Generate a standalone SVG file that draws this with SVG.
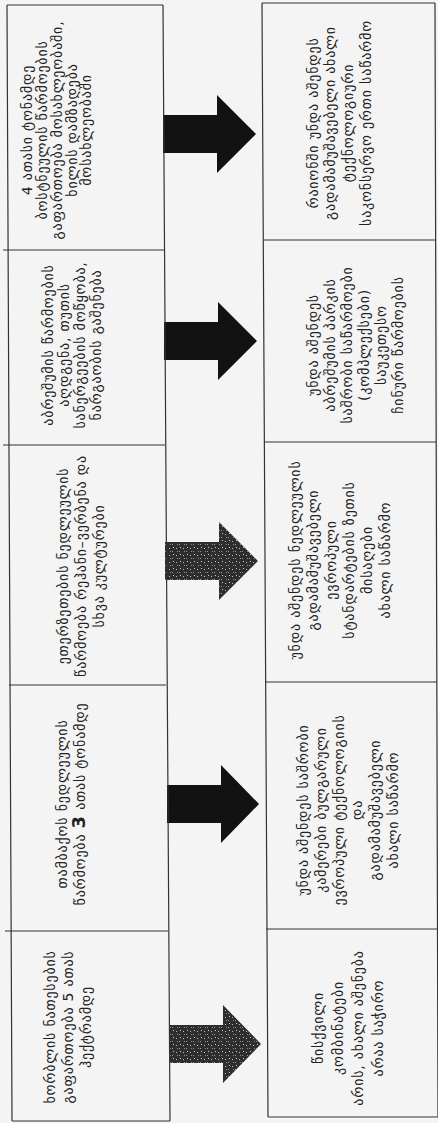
<svg xmlns="http://www.w3.org/2000/svg" width="438" height="1123" viewBox="0 0 438 1123">
<style>
.bg{fill:#f4f4f4}
.ln{stroke:#333;stroke-width:1.2;fill:none}
.t{font-family:"DejaVu Sans","Noto Sans",sans-serif;font-size:14px;letter-spacing:0.8px;fill:#222;text-anchor:middle}
.a1{fill:#121212}
.a2{fill:#2e2e2e}
</style>
<defs>
<pattern id="spk" width="7" height="7" patternUnits="userSpaceOnUse">
<rect x="1" y="2" width="1" height="1" fill="#bbb"/>
<rect x="4" y="5" width="1" height="1" fill="#999"/>
<rect x="5" y="1" width="1" height="1" fill="#ccc"/>
<rect x="2" y="5" width="1" height="1" fill="#888"/>
</pattern>
</defs>
<rect class="bg" x="0" y="0" width="438" height="1123"/>
<g id="connectors">
<path class="a1" d="M163,115 H217 V95 L256,134 L217,173 V153 H163 Z"/>
<path class="a1" d="M164,322 H218 V302 L257,341 L218,380 V360 H164 Z"/>
<path class="a2" d="M165,542 H219 V522 L258,561 L219,600 V580 H165 Z"/>
<path fill="url(#spk)" d="M165,542 H219 V522 L258,561 L219,600 V580 H165 Z"/>
<path class="a1" d="M167,785 H221 V765 L259,804 L221,843 V823 H167 Z"/>
<path class="a2" d="M170,1025 H223 V1005 L261,1044 L223,1083 V1063 H170 Z"/>
<path fill="url(#spk)" d="M170,1025 H223 V1005 L261,1044 L223,1083 V1063 H170 Z"/>
</g>
<g id="frame">
<path class="ln" d="M7,5 L12,1121 M163,5 L170,1121 M262,3 L268,1117 M435,3 L438,1117"/>
</g>
<g id="L1">
<path class="ln" d="M7,5 H163"/>
<g transform="translate(0,130) rotate(-90)">
<text class="t"><tspan x="0" y="32">4 ათასი ტონამდე</tspan><tspan x="0" y="47">ბოსტნეულის წარმოების</tspan><tspan x="0" y="62">გაფართოება მოსახლეობაში,</tspan><tspan x="0" y="77">ხილის დამზადება</tspan><tspan x="0" y="91">მოსახლეობაში</tspan></text>
</g>
</g>
<g id="L2">
<path class="ln" d="M3,250 H164"/>
<g transform="translate(0,345) rotate(-90)">
<text class="t"><tspan x="0" y="53">აბრეშუმის წარმოების</tspan><tspan x="0" y="69">აღდგენა, თუთის</tspan><tspan x="0" y="85">სანერგეების მოწყობა,</tspan><tspan x="0" y="101">ნარგაობის გაშენება</tspan></text>
</g>
</g>
<g id="L3">
<path class="ln" d="M3,445 H165"/>
<g transform="translate(0,566) rotate(-90)">
<text class="t"><tspan x="0" y="68">ეთერზეთების ნედლეულის</tspan><tspan x="0" y="86">წარმოება რეჰანი–ვერბენა და</tspan><tspan x="0" y="104">სხვა კულტურები</tspan></text>
</g>
</g>
<g id="L4">
<path class="ln" d="M9,685 H166"/>
<g transform="translate(0,804) rotate(-90)">
<text class="t"><tspan x="0" y="67">თამბაქოს ნედლეულის</tspan><tspan x="0" y="85">წარმოება <tspan font-weight="bold" font-size="18">3</tspan> ათას ტონამდე</tspan></text>
</g>
</g>
<g id="L5">
<path class="ln" d="M5,931 H168 M12,1121 H170"/>
<g transform="translate(0,1027) rotate(-90)">
<text class="t"><tspan x="0" y="55">ხორბლის ნათესების</tspan><tspan x="0" y="73">გაფართოება 5 ათას</tspan><tspan x="0" y="91">ჰექტრამდე</tspan></text>
</g>
</g>
<g id="R1">
<path class="ln" d="M262,3 H435"/>
<g transform="translate(0,123) rotate(-90)">
<text class="t"><tspan x="0" y="318">რაიონში უნდა აშენდეს</tspan><tspan x="0" y="335">გადამამუშავებელი ახალი</tspan><tspan x="0" y="353">ტექნოლოგიური</tspan><tspan x="0" y="371">საკონსერვო ერთი საწარმო</tspan></text>
</g>
</g>
<g id="R2">
<path class="ln" d="M263,240 H436"/>
<g transform="translate(0,345) rotate(-90)">
<text class="t"><tspan x="0" y="318">უნდა აშენდეს</tspan><tspan x="0" y="335">აბრეშუმის პარკის</tspan><tspan x="0" y="352">საშრობი საწარმოები</tspan><tspan x="0" y="369">(კომპლექსები)</tspan><tspan x="0" y="386">საუკეთესო</tspan><tspan x="0" y="403">ჩინური წარმოების</tspan></text>
</g>
</g>
<g id="R3">
<path class="ln" d="M264,442 H436"/>
<g transform="translate(0,560) rotate(-90)">
<text class="t"><tspan x="0" y="300">უნდა  აშენდეს ნედლეულის</tspan><tspan x="0" y="318">გადამამუშავებელი</tspan><tspan x="0" y="336">ევროპული</tspan><tspan x="0" y="354">სტანდარტების ზეთის</tspan><tspan x="0" y="372">მისაღები</tspan><tspan x="0" y="390">ახალი საწარმო</tspan></text>
</g>
</g>
<g id="R4">
<path class="ln" d="M265,682 H437"/>
<g transform="translate(0,810) rotate(-90)">
<text class="t"><tspan x="0" y="308">უნდა აშენდეს საშრობი</tspan><tspan x="0" y="326">კამერები ბულგარული</tspan><tspan x="0" y="344">ევროპული ტექნოლოგიის</tspan><tspan x="0" y="362">და</tspan><tspan x="0" y="380">გადამამუშავებელი</tspan><tspan x="0" y="398">ახალი  საწარმო</tspan></text>
</g>
</g>
<g id="R5">
<path class="ln" d="M266,929 H438 M268,1117 H438"/>
<g transform="translate(0,1028) rotate(-90)">
<text class="t"><tspan x="0" y="323">წისქვილი</tspan><tspan x="0" y="343">კომბინატები</tspan><tspan x="0" y="363">არის, ახალი აშენება</tspan><tspan x="0" y="383">არაა საჭირო</tspan></text>
</g>
</g>
</svg>
